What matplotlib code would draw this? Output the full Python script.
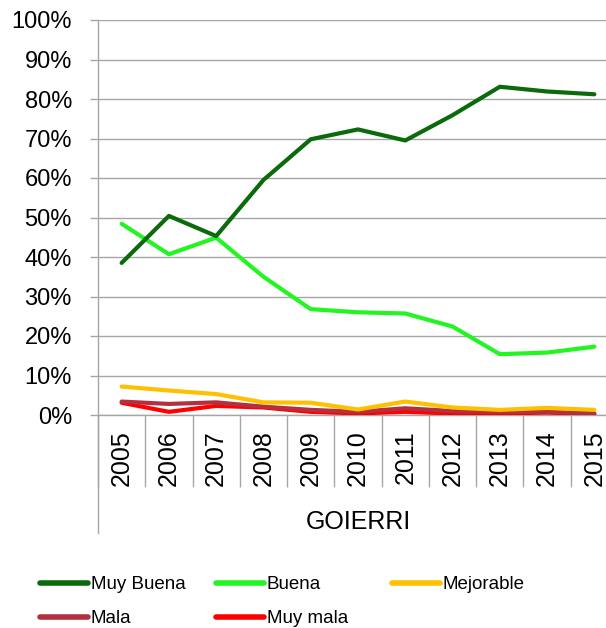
import numpy as np
import matplotlib
matplotlib.use("Agg")
import matplotlib.pyplot as plt
from matplotlib.lines import Line2D

plt.rcParams['font.family'] = ['Liberation Sans', 'DejaVu Sans']

# datos (%)
years = ['2005', '2006', '2007', '2008', '2009', '2010', '2011', '2012', '2013', '2014', '2015']
muy_buena = [38.5, 50.4, 45.3, 59.5, 69.8, 72.3, 69.5, 75.9, 83.1, 81.9, 81.2]
buena = [48.4, 40.7, 44.9, 35.0, 26.8, 26.0, 25.7, 22.4, 15.4, 15.8, 17.3]
mejorable = [7.2, 6.2, 5.3, 3.2, 3.1, 1.4, 3.4, 1.9, 1.3, 1.8, 1.3]
mala = [3.4, 2.8, 3.2, 2.1, 1.3, 0.8, 1.7, 1.0, 0.8, 0.8, 0.4]
muy_mala = [3.1, 0.8, 2.3, 1.9, 0.8, 0.4, 0.8, 0.4, 0.4, 0.6, 0.3]
group_label = 'GOIERRI'

series = [
    ('Muy Buena', muy_buena, '#0b6a0b'),
    ('Buena', buena, '#22f522'),
    ('Mejorable', mejorable, '#ffc000'),
    ('Mala', mala, '#b5303f'),
    ('Muy mala', muy_mala, '#ff0000'),
]

W, H = 606, 628
fig = plt.figure(figsize=(W / 100, H / 100), dpi=100)
# eje: x 98..618 px, y 20..415 px (la derecha queda cortada como en la imagen)
ax = fig.add_axes([98 / W, (H - 415) / H, 520 / W, 395 / H])

x = np.arange(len(years))
handles = {}
for name, vals, col in series[::-1]:
    ln, = ax.plot(x, vals, color=col, lw=3.0, solid_capstyle='round',
                  solid_joinstyle='round', zorder=3)
    handles[name] = ln

ax.set_xlim(-0.5, len(years) - 0.5)
ax.set_ylim(0, 100)
ax.set_yticks(np.arange(0, 101, 10))
ax.set_yticklabels([f'{v}%' for v in range(0, 101, 10)], fontsize=17)
ax.yaxis.grid(True, color='#a6a6a6', lw=1.0)
ax.set_axisbelow(True)

ax.set_xticks(x)
ax.set_xticklabels(years, rotation=90, fontsize=18)
ax.set_xticks(np.arange(-0.5, len(years), 1.0), minor=True)
ax.tick_params(axis='x', which='major', length=0, pad=11)
ax.tick_params(axis='x', which='minor', length=52, color='#a6a6a6', width=1.0)
ax.tick_params(axis='y', length=5.8, color='#a6a6a6', width=1.0, pad=13)

for s in ['top', 'right']:
    ax.spines[s].set_visible(False)
for s in ['left', 'bottom']:
    ax.spines[s].set_color('#a6a6a6')
    ax.spines[s].set_linewidth(1.0)
ax.spines['left'].set_bounds(-29.9, 100)

fig.text(358 / W, 1 - 522 / H, group_label, ha='center', va='center', fontsize=18)

# leyenda en tres columnas
cols = [(40, ['Muy Buena', 'Mala']), (216, ['Buena', 'Muy mala']), (392, ['Mejorable'])]
for xpx, names in cols:
    hs = [Line2D([0], [0], color=handles[n].get_color(), lw=4.0, solid_capstyle='round')
          for n in names]
    fig.legend(hs, names, loc='upper left', bbox_to_anchor=(xpx / W, 1 - 576 / H),
               frameon=False, fontsize=13.5, handlelength=2.55, handletextpad=0.15,
               borderpad=0, borderaxespad=0, labelspacing=0.9)

fig.savefig('out.png', dpi=100)
